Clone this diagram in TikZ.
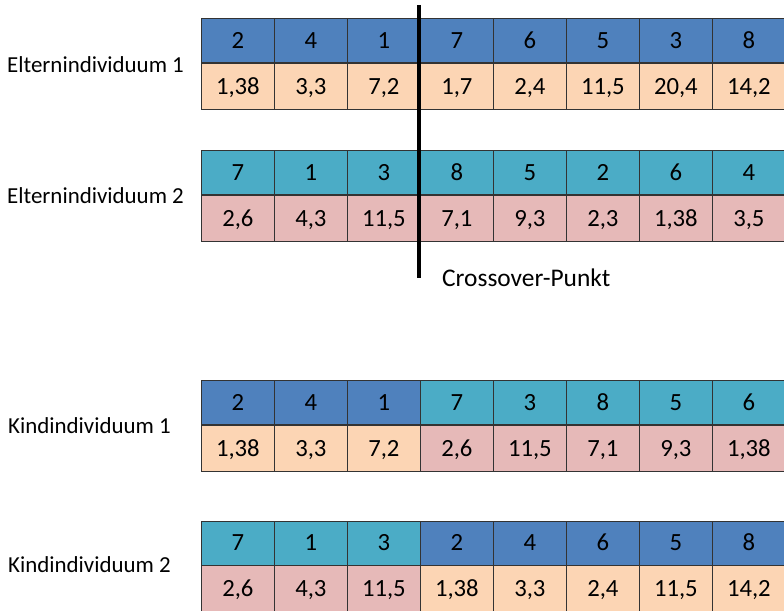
\documentclass[tikz,border=0pt]{standalone}
\usepackage{fontspec}
\setmainfont{Carlito}
\usetikzlibrary{positioning}

\definecolor{genA}{HTML}{4F81BD}
\definecolor{genB}{HTML}{4BACC6}
\definecolor{wertA}{HTML}{FCD5B4}
\definecolor{wertB}{HTML}{E6B9B8}

\begin{document}
\begin{tikzpicture}[x=1bp, y=-1bp, every node/.style={font=\fontsize{23}{27}\selectfont},
    cell/.style={rectangle, draw=black!80, line width=0.75bp, minimum width=73bp, inner sep=0pt, text height=15.5bp, text depth=0pt, font=\fontsize{24.8}{29}\selectfont},
    gen/.style={cell, anchor=north west, minimum height=44bp},
    wert/.style={cell, minimum height=46.5bp},
    txt/.style={inner sep=0pt, anchor=west}]
    \useasboundingbox (0,0) rectangle (784,611);

    % Elternindividuum 1
    \node[txt] (e1) at (7,65) {Elternindividuum 1};
    \foreach \i/\g/\w/\s in {1/2/{1,38}/A, 2/4/{3,3}/A, 3/1/{7,2}/A, 4/7/{1,7}/A, 5/6/{2,4}/A, 6/5/{11,5}/A, 7/3/{20,4}/A, 8/8/{14,2}/A}{
        \node[gen, fill=gen\s] (e1g\i) at ({128+73*\i},18) {\g};
        \node[wert, fill=wert\s, below=0pt of e1g\i] (e1w\i) {\w};
    }

    % Elternindividuum 2
    \node[txt] (e2) at (7,196) {Elternindividuum 2};
    \foreach \i/\g/\w/\s in {1/7/{2,6}/B, 2/1/{4,3}/B, 3/3/{11,5}/B, 4/8/{7,1}/B, 5/5/{9,3}/B, 6/2/{2,3}/B, 7/6/{1,38}/B, 8/4/{3,5}/B}{
        \node[gen, fill=gen\s] (e2g\i) at ({128+73*\i},150) {\g};
        \node[wert, fill=wert\s, below=0pt of e2g\i] (e2w\i) {\w};
    }

    % Crossover
    \coordinate (cotop) at (419,5);
    \coordinate (cobot) at (419,278);
    \draw[line width=4.5bp] (cotop) -- (cobot);
    \node[txt, font=\fontsize{25.5}{30}\selectfont] (co) at (442,277.5) {Crossover-Punkt};

    % Kindindividuum 1
    \node[txt] (k1) at (8,426) {Kindindividuum 1};
    \foreach \i/\g/\w/\s in {1/2/{1,38}/A, 2/4/{3,3}/A, 3/1/{7,2}/A, 4/7/{2,6}/B, 5/3/{11,5}/B, 6/8/{7,1}/B, 7/5/{9,3}/B, 8/6/{1,38}/B}{
        \node[gen, fill=gen\s] (k1g\i) at ({128+73*\i},380) {\g};
        \node[wert, fill=wert\s, below=0pt of k1g\i] (k1w\i) {\w};
    }

    % Kindindividuum 2
    \node[txt] (k2) at (8,565) {Kindindividuum 2};
    \foreach \i/\g/\w/\s in {1/7/{2,6}/B, 2/1/{4,3}/B, 3/3/{11,5}/B, 4/2/{1,38}/A, 5/4/{3,3}/A, 6/6/{2,4}/A, 7/5/{11,5}/A, 8/8/{14,2}/A}{
        \node[gen, fill=gen\s] (k2g\i) at ({128+73*\i},520.5) {\g};
        \node[wert, fill=wert\s, below=0pt of k2g\i] (k2w\i) {\w};
    }
\end{tikzpicture}
\end{document}
